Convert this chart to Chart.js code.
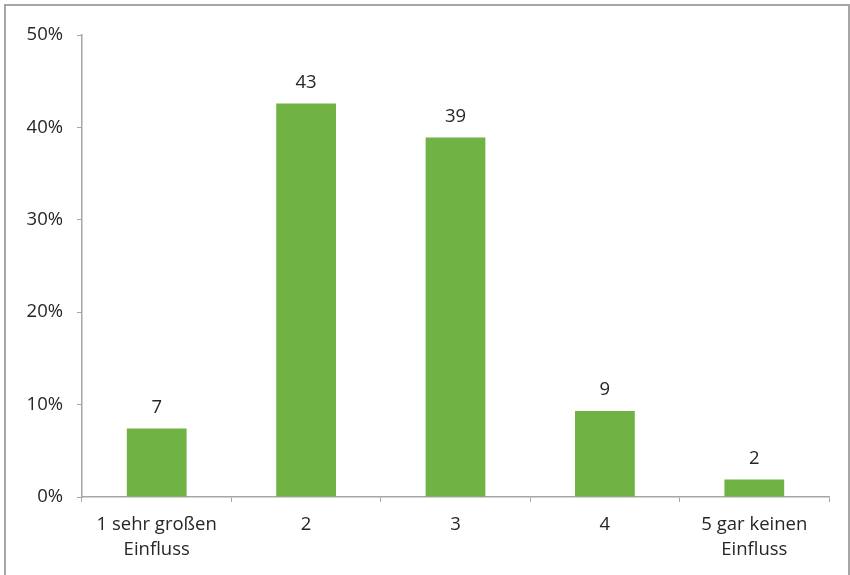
<!DOCTYPE html>
<html>
<head>
<meta charset="utf-8">
<script src="https://cdn.jsdelivr.net/npm/chart.js@4"></script>
<style>
  html, body { margin: 0; padding: 0; background: #fff; overflow: hidden; }
  #frame { position: absolute; left: 4px; top: 4px; width: 842px; height: 600px; border: 2px solid #a6a6a6; }
  #wrap { position: absolute; left: 0; top: 0; width: 850px; height: 575px; }
</style>
</head>
<body>
<div id="frame"></div>
<div id="wrap"><canvas id="chart"></canvas></div>
<script>
const categories = [['1 sehr großen', 'Einfluss'], '2', '3', '4', ['5 gar keinen', 'Einfluss']];
const shares = [7.4, 42.6, 38.9, 9.3, 1.9];
const yTicks = [0, 10, 20, 30, 40, 50];

const fontFamily = '"Open Sans", "Noto Sans", sans-serif';
const textColor = '#262626';

// value labels above each bar
const barLabels = {
  id: 'barLabels',
  afterDatasetsDraw(chart) {
    const ctx = chart.ctx;
    ctx.save();
    ctx.font = '18.5px ' + fontFamily;
    ctx.fillStyle = textColor;
    ctx.textAlign = 'center';
    ctx.textBaseline = 'middle';
    chart.getDatasetMeta(0).data.forEach((bar, i) => {
      ctx.fillText(Math.round(shares[i]), bar.x, bar.y - 21);
    });
    ctx.restore();
  }
};

new Chart(document.getElementById('chart'), {
  type: 'bar',
  data: {
    labels: categories,
    datasets: [{
      data: shares,
      backgroundColor: '#71b244',
      barPercentage: 0.4,
      categoryPercentage: 1
    }]
  },
  options: {
    animation: false,
    responsive: true,
    maintainAspectRatio: false,
    layout: { padding: { left: 0, top: 35, right: 21, bottom: 0 } },
    plugins: { legend: { display: false }, tooltip: { enabled: false } },
    scales: {
      x: {
        grid: { drawOnChartArea: false, tickLength: 5, color: '#a6a6a6', offset: true },
        border: { color: '#a6a6a6', width: 1.5 },
        ticks: {
          color: textColor,
          padding: 10,
          maxRotation: 0,
          font: { family: fontFamily, size: 18.5, lineHeight: 1.35 }
        },
        afterFit(scale) { scale.height = 78; }
      },
      y: {
        min: 0,
        max: 50,
        afterBuildTicks(scale) { scale.ticks = yTicks.map(v => ({ value: v })); },
        grid: { drawOnChartArea: false, tickLength: 5, color: '#a6a6a6' },
        border: { color: '#a6a6a6', width: 1.5 },
        ticks: {
          color: textColor,
          padding: 14,
          callback: v => v + '%',
          font: { family: fontFamily, size: 18.5 }
        },
        afterFit(scale) { scale.width = 82; }
      }
    }
  },
  plugins: [barLabels]
});
</script>
</body>
</html>
